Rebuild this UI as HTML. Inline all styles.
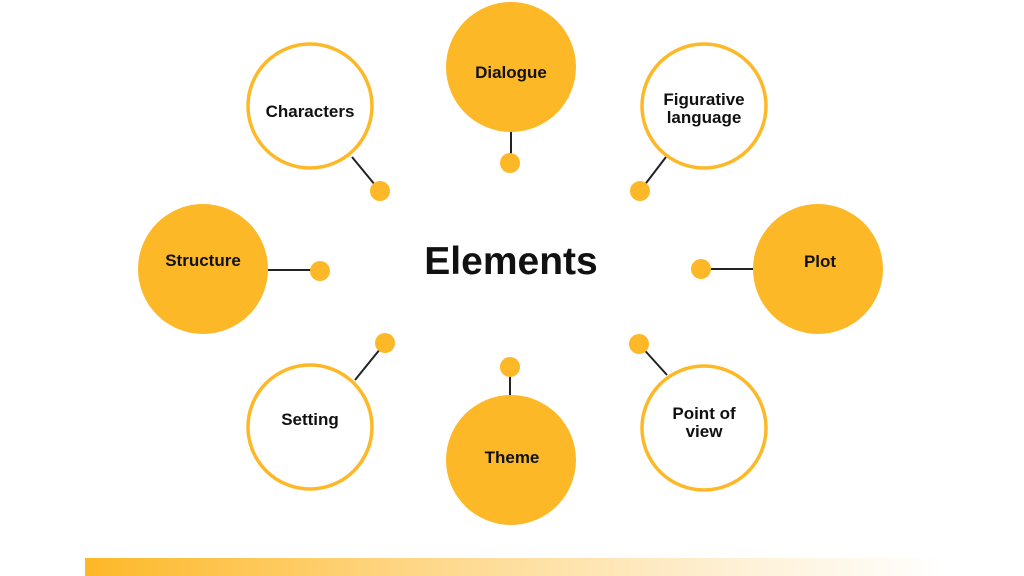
<!DOCTYPE html>
<html><head><meta charset="utf-8"><style>
html,body{margin:0;padding:0;background:#fff;}
svg{display:block;}
text{font-family:"Liberation Sans",sans-serif;font-weight:bold;fill:#111;text-anchor:middle;}
</style></head><body>
<svg width="1024" height="576" viewBox="0 0 1024 576">
<defs>
<linearGradient id="g" x1="0" x2="1" y1="0" y2="0">
<stop offset="0" stop-color="#FDB827"/>
<stop offset="0.4" stop-color="#FED88A"/>
<stop offset="0.75" stop-color="#FEF0D4"/>
<stop offset="1" stop-color="#FFFFFF"/>
</linearGradient>
</defs>
<rect x="85" y="558" width="860" height="18" fill="url(#g)"/>
<g stroke="#222" stroke-width="2">
<line x1="352" y1="157" x2="380" y2="191"/>
<line x1="511" y1="130" x2="511" y2="163"/>
<line x1="666" y1="157" x2="640" y2="191"/>
<line x1="268" y1="270" x2="320" y2="270"/>
<line x1="701" y1="269" x2="753" y2="269"/>
<line x1="385" y1="343" x2="355" y2="380"/>
<line x1="510" y1="367" x2="510" y2="400"/>
<line x1="639" y1="344" x2="667" y2="375"/>
</g>
<g fill="#FDB827">
<circle cx="380" cy="191" r="10"/>
<circle cx="510" cy="163" r="10"/>
<circle cx="640" cy="191" r="10"/>
<circle cx="320" cy="271" r="10"/>
<circle cx="701" cy="269" r="10"/>
<circle cx="385" cy="343" r="10"/>
<circle cx="510" cy="367" r="10"/>
<circle cx="639" cy="344" r="10"/>
<circle cx="511" cy="67" r="65"/>
<circle cx="203" cy="269" r="65"/>
<circle cx="818" cy="269" r="65"/>
<circle cx="511" cy="460" r="65"/>
</g>
<g fill="#fff" stroke="#FDB827" stroke-width="3.5">
<circle cx="310" cy="106" r="62"/>
<circle cx="704" cy="106" r="62"/>
<circle cx="310" cy="427" r="62"/>
<circle cx="704" cy="428" r="62"/>
</g>
<g font-size="17">
<text x="310" y="117">Characters</text>
<text x="511" y="78">Dialogue</text>
<text x="704" y="105">Figurative</text>
<text x="704" y="123">language</text>
<text x="203" y="266">Structure</text>
<text x="820" y="267">Plot</text>
<text x="310" y="425">Setting</text>
<text x="512" y="463">Theme</text>
<text x="704" y="419">Point of</text>
<text x="704" y="437">view</text>
</g>
<text x="511" y="274" font-size="39">Elements</text>
</svg>
</body></html>
